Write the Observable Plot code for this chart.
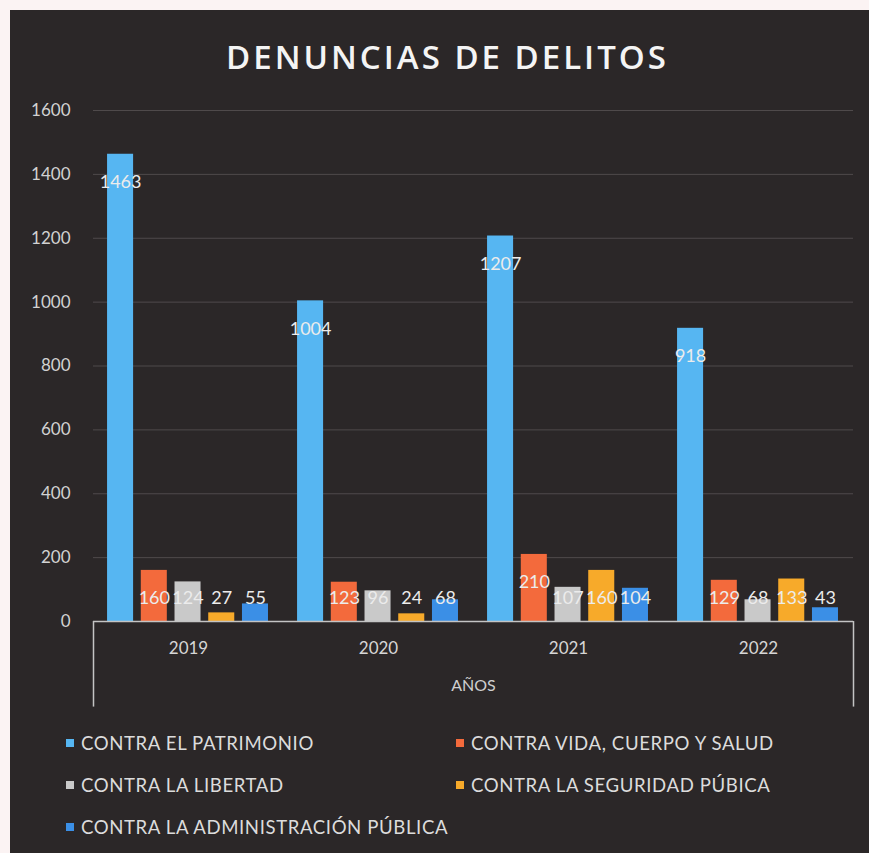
<!DOCTYPE html>
<html>
<head>
<meta charset="utf-8">
<script src="https://cdn.jsdelivr.net/npm/d3@7"></script>
<script src="https://cdn.jsdelivr.net/npm/@observablehq/plot@0.6"></script>
<style>
  html, body { margin: 0; padding: 0; background: #fbf3f3; }
  #page { position: relative; width: 869px; height: 853px; overflow: hidden; }
  #card { position: absolute; left: 10px; top: 10px; width: 859px; height: 843px; background: #2b2728; }
  #title { position: absolute; left: 0; top: 34px; width: 895px; text-align: center; color: #f4f4f4;
           font-family: "Open Sans", sans-serif; font-weight: 600; font-size: 33px; letter-spacing: 3px; }
  #chart { position: absolute; left: 0; top: 90px; }
  #legend { position: absolute; left: 66px; top: 732px; font-family: Lato, sans-serif; font-size: 18.6px; color: #dcdcdc;
            display: grid; grid-template-columns: 390px 400px; row-gap: 21px; letter-spacing: 0.6px; }
  .item { display: flex; align-items: center; height: 21px; }
  .sw { width: 8px; height: 8px; margin-right: 7px; }
</style>
</head>
<body>
<div id="page">
  <div id="card"></div>
  <div id="title">DENUNCIAS DE DELITOS</div>
  <div id="chart"></div>
  <div id="legend"></div>
</div>
<script>
const years = ["2019", "2020", "2021", "2022"];
const series = [
  "CONTRA EL PATRIMONIO",
  "CONTRA VIDA, CUERPO Y SALUD",
  "CONTRA LA LIBERTAD",
  "CONTRA LA SEGURIDAD PÚBICA",
  "CONTRA LA ADMINISTRACIÓN PÚBLICA"
];
const colors = ["#56b6f2", "#f36a3c", "#c9c9c9", "#f7aa2a", "#3b8fe6"];
const patrimonio = [1463, 1004, 1207, 918];
const vida = [160, 123, 210, 129];
const libertad = [124, 96, 107, 68];
const seguridad = [27, 24, 160, 133];
const administracion = [55, 68, 104, 43];
const yTicks = [0, 200, 400, 600, 800, 1000, 1200, 1400, 1600];
const axisTitle = "AÑOS";

const seriesValues = [patrimonio, vida, libertad, seguridad, administracion];

// group layout within one year band (fractions of the band)
const padOuter = 0.074, stepFrac = 0.1775, barFrac = 0.137;

const rows = [];
years.forEach((yr, yi) => {
  series.forEach((s, si) => {
    const x1 = yi + padOuter + si * stepFrac;
    rows.push({year: yr, yi, series: s, si, value: seriesValues[si][yi], x1, x2: x1 + barFrac, xc: x1 + barFrac / 2});
  });
});

const textColor = "#d4d4d4";
const plot = Plot.plot({
  width: 869,
  height: 640,
  marginLeft: 93,
  marginRight: 16,
  marginTop: 20,
  marginBottom: 109,
  style: {background: "transparent", color: textColor, fontFamily: "Lato, sans-serif", fontSize: "16px"},
  x: {domain: [0, 4], axis: null},
  y: {domain: [0, 1600], axis: null},
  color: {domain: series, range: colors},
  marks: [
    Plot.gridY(yTicks.slice(1), {stroke: "#4f4a4b", strokeOpacity: 1, strokeWidth: 1}),
    Plot.axisY(yTicks, {tickSize: 0, tickPadding: 23, fontSize: 17, fill: "#d2d2d2", label: null, tickFormat: d => String(d)}),
    Plot.rectY(rows, {x1: "x1", x2: "x2", y: "value", fill: "series"}),
    Plot.ruleY([0], {x1: 0, x2: 4, stroke: "#c4c4c4", strokeWidth: 1.5}),
    Plot.ruleX([0, 4], {y1: 0, y2: -268, stroke: "#c4c4c4", strokeWidth: 1.5}),
    Plot.axisX(years.map((_, i) => i + 0.5), {tickSize: 0, tickPadding: 20, fontSize: 17, fill: "#d6d6d6",
      tickFormat: v => years[Math.floor(v)], label: null}),
    Plot.text([axisTitle], {frameAnchor: "bottom", dy: 69, fontSize: 16, fill: "#cfcfcf"}),
    Plot.text(rows, {x: "xc", y: d => Math.max(d.value - 88, 72), text: d => String(d.value),
      fill: "#ececec", fontSize: 18})
  ]
});
document.getElementById("chart").appendChild(plot);

const legend = document.getElementById("legend");
series.forEach((s, i) => {
  const it = document.createElement("div");
  it.className = "item";
  const sw = document.createElement("span");
  sw.className = "sw";
  sw.style.background = colors[i];
  const t = document.createElement("span");
  t.textContent = s;
  it.appendChild(sw); it.appendChild(t);
  legend.appendChild(it);
});
</script>
</body>
</html>
